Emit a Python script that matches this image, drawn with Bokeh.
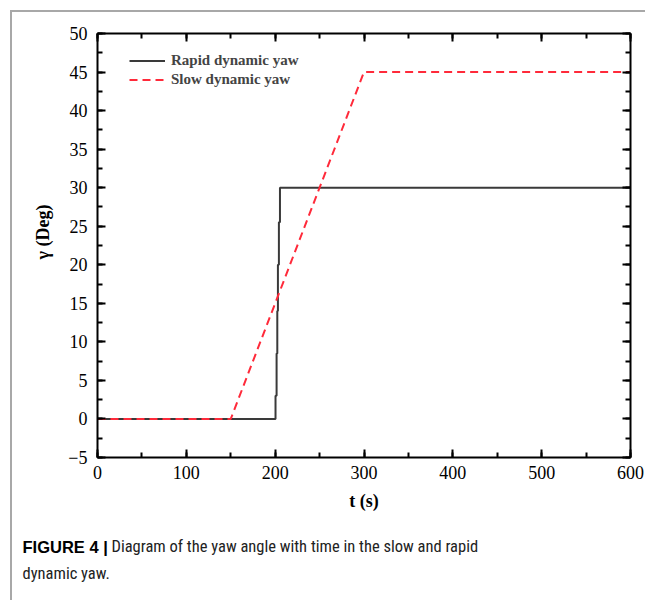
from bokeh.plotting import figure
from bokeh.models import (Range1d, LinearAxis, SingleIntervalTicker, Legend, LegendItem,
                          CustomLabelingPolicy)
from bokeh.layouts import column
from bokeh.core.properties import value
from bokeh.embed import file_html
from bokeh.resources import INLINE

# ---- data ----
rapid_t = [0, 200.4, 200.4, 201.6, 201.6, 202.4, 202.4, 203.1, 203.1, 204.2, 204.2, 205.4, 205.4, 600]
rapid_y = [0, 0, 3, 3, 8.5, 8.5, 14, 14, 20, 20, 25.5, 25.5, 30, 30]
slow_t = [0, 150, 300, 600]
slow_y = [0, 0, 45, 45]
series_names = ["Rapid dynamic yaw", "Slow dynamic yaw"]
x_label = "t (s)"
y_label = "\u03b3 (Deg)"
caption_bold = "FIGURE 4 |"
caption_line1 = "Diagram of the yaw angle with time in the slow and rapid"
caption_line2 = "dynamic yaw."

W, H = 645, 600
OFF = 12                      # page frame (grey border) offset
L, R, T, B = 97, 15, 33, 143  # plot frame edges in page pixels
X0, X1, Y0, Y1 = 0, 600, -5, 50
MAIN_BOTTOM = 520
FH = H - T - B

p = figure(width=W - OFF, height=MAIN_BOTTOM - OFF, output_backend="svg", toolbar_location=None,
           x_range=Range1d(X0, X1), y_range=Range1d(Y0, Y1),
           min_border_left=L - OFF, min_border_right=R, min_border_top=T - OFF,
           min_border_bottom=MAIN_BOTTOM - (H - B),
           x_axis_type=None, y_axis_type=None)
p.background_fill_color = "white"
p.border_fill_color = "white"
p.outline_line_color = None
p.xgrid.visible = False
p.ygrid.visible = False

serif = "Liberation Serif"

def style_axis(ax, labels=True):
    ax.axis_line_width = 2
    ax.axis_line_color = "black"
    ax.major_tick_in = 8
    ax.major_tick_out = 0
    ax.minor_tick_in = 5
    ax.minor_tick_out = 0
    ax.major_tick_line_width = 2
    ax.minor_tick_line_width = 2
    ax.major_tick_line_color = "black"
    ax.minor_tick_line_color = "black"
    ax.major_label_text_font = serif
    ax.major_label_text_font_size = "18px"
    ax.major_label_text_color = "black"
    if not labels:
        ax.major_label_text_font_size = "1px"
        ax.major_label_standoff = 0
        ax.major_label_policy = CustomLabelingPolicy(
            code="for (const i of indices) { indices.unset(i) } return indices")
    ax.axis_label_text_font = serif
    ax.axis_label_text_font_size = "18px"
    ax.axis_label_text_font_style = "bold"
    ax.axis_label_text_color = "black"

xt = lambda: SingleIntervalTicker(interval=100, num_minor_ticks=2)
yt = lambda: SingleIntervalTicker(interval=5, num_minor_ticks=2)

xb = LinearAxis(ticker=xt(), axis_label=x_label)
style_axis(xb)
xb.major_label_standoff = 8
xb.axis_label_standoff = 9
p.add_layout(xb, "below")

# leading no-break spaces lift the rotated label a little above the frame centre, as in the reference
yl = LinearAxis(ticker=yt(), axis_label="\u00a0" * 6 + y_label)
style_axis(yl)
yl.major_label_standoff = 10
yl.axis_label_standoff = 12
yl.major_label_overrides = {-5: "\u22125"}
p.add_layout(yl, "left")

xa = LinearAxis(ticker=xt())
style_axis(xa, labels=False)
p.add_layout(xa, "above")

yr = LinearAxis(ticker=yt())
style_axis(yr, labels=False)
p.add_layout(yr, "right")

r1 = p.line(rapid_t, rapid_y, line_color="#3a3a3a", line_width=2)
r2 = p.line(slow_t, slow_y, line_color="#ff2a3a", line_width=2, line_dash="8 5")

legend = Legend(items=[LegendItem(label=series_names[0], renderers=[r1]),
                       LegendItem(label=series_names[1], renderers=[r2])],
                location=(32, FH - 18 - 38), padding=0, margin=0, spacing=0,
                label_height=19, glyph_height=19, glyph_width=36, label_standoff=6,
                label_text_font=serif, label_text_font_size="15px",
                label_text_font_style="bold", background_fill_alpha=0,
                border_line_color=None)
p.add_layout(legend, "center")

# ---- caption panel: a figure whose data units are page pixels ----
cap = figure(width=W - OFF, height=H - MAIN_BOTTOM, output_backend="svg", toolbar_location=None,
             x_range=Range1d(OFF, W), y_range=Range1d(H, MAIN_BOTTOM),
             min_border=0, x_axis_type=None, y_axis_type=None)
cap.outline_line_color = None
cap.xgrid.visible = False
cap.ygrid.visible = False
cap.background_fill_color = "white"
cap.border_fill_color = "white"

bold_font = value("Liberation Sans")
cap_font = value("Liberation Sans Narrow, Roboto Condensed, Roboto")
cap.text(x=[22], y=[546], text=[caption_bold], text_font=bold_font, text_font_style="bold",
         text_font_size="16.5px", text_baseline="middle", text_color="black")
cap.text(x=[111], y=[546], text=[caption_line1], text_font=cap_font,
         text_font_size="16.5px", text_baseline="middle", text_color="#222222")
cap.text(x=[22], y=[573], text=[caption_line2], text_font=cap_font,
         text_font_size="16.5px", text_baseline="middle", text_color="#222222")

if "frame_align" in cap.properties():
    cap.frame_align = False
    p.frame_align = False
    second = cap
else:
    second = column(cap, spacing=0)

lay = column(p, second, spacing=0, margin=(10, 0, 0, 10),
             styles={"border-top": "2px solid #a8a8a8", "border-left": "2px solid #a8a8a8"})

open("out.html", "w").write(file_html(lay, INLINE))
